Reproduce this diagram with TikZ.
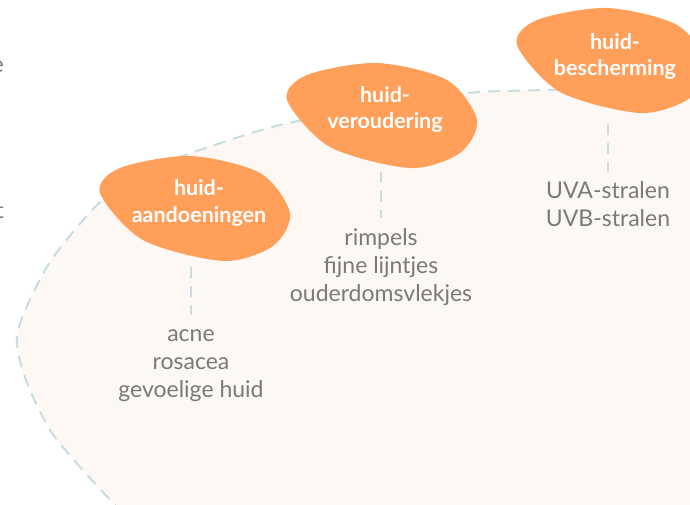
\documentclass[tikz,border=0pt]{standalone}
\usepackage{fontspec}
\setmainfont{Lato}
\definecolor{huidorange}{HTML}{FF9F5A}
\definecolor{itemgrey}{HTML}{7A7A7A}
\definecolor{linkblue}{HTML}{C8DDDD}
\definecolor{areacream}{HTML}{FDF8F4}

\begin{document}
\begin{tikzpicture}[x=1pt, y=-1pt,
    area/.style={fill=areacream, draw=linkblue, line width=2pt, dash pattern=on 12pt off 8pt},
    blob/.style={fill=huidorange},
    huidblob/.pic={\fill[blob] plot[smooth cycle] coordinates {(-95,-12) (-75,-37) (-5,-49) (65,-32) (95,8) (78,41) (28,56) (-52,35)};},
    title/.style={text=white, font=\bfseries\fontsize{21.5}{26}\selectfont, align=center, inner sep=0pt, anchor=base},
    items/.style={text=itemgrey, font=\fontsize{23}{28}\selectfont, align=center, inner sep=0pt, anchor=base},
    link/.style={draw=linkblue, line width=2.5pt, dash pattern=on 11pt off 8pt}
]
\useasboundingbox (0,0) rectangle (690,505);

% achtergrond
\path[area] plot[smooth] coordinates {(720,86) (545,90) (467,93) (380,106) (280,125) (200,150) (140,173) (97,205) (50,262) (22,318) (17,345) (27,383) (50,430) (80,467) (115,505) (130,520)} -- (130,540) -- (720,540) -- cycle;

% afgesneden tekst links
\node[items, anchor=base east] (frag1) at (4,73) {e};
\node[items, anchor=base east] (frag2) at (4,218) {t};

% blobs
\pic at (195,205) {huidblob};
\pic at (382,112) {huidblob};
\pic at (612,57) {huidblob};

% titels (base = laatste regel)
\node[title] (aandoening) at (199,222) {huid-\\aandoeningen};
\node[title] (veroudering) at (385,129) {huid-\\veroudering};
\node[title] (bescherming) at (615,76) {huid-\\bescherming};

% lijstjes
\node[items] (aandoeninglist) at (191,397) {acne\\rosacea\\gevoelige huid};
\node[items] (verouderinglist) at (381,301) {rimpels\\fijne lijntjes\\ouderdomsvlekjes};
\node[items] (beschermlist) at (608,226) {UVA-stralen\\UVB-stralen};

% verbindingen
\coordinate (aandoeningend) at (191,267);
\coordinate (verouderingend) at (381,172);
\coordinate (beschermingend) at (608,124);
\draw[link, shorten >=14pt] (aandoeningend) -- (aandoeninglist.north);
\draw[link, shorten >=10pt] (verouderingend) -- (verouderinglist.north);
\draw[link, shorten >=9pt] (beschermingend) -- (beschermlist.north);

\end{tikzpicture}
\end{document}
